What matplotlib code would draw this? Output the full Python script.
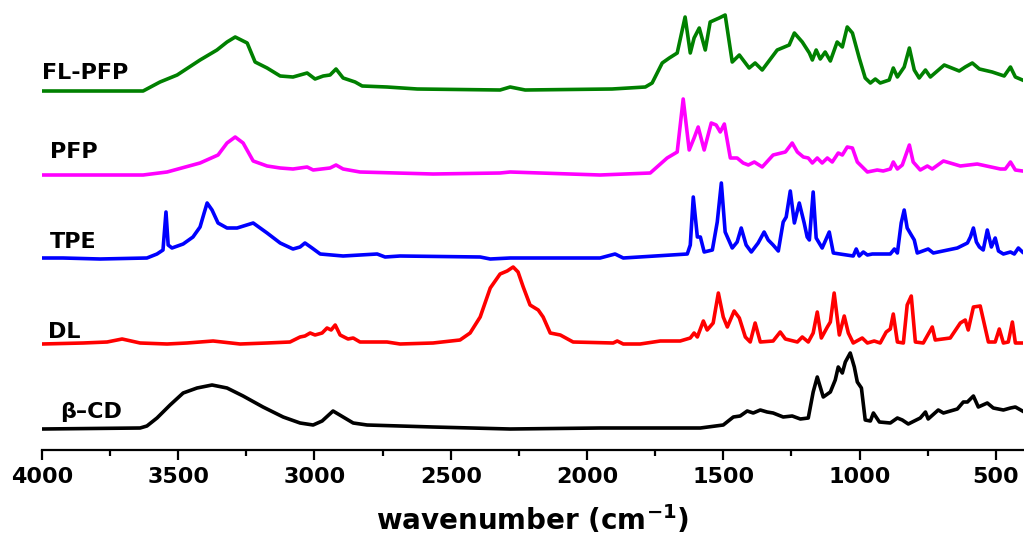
import matplotlib.pyplot as plt
from matplotlib.ticker import MultipleLocator

# espectros FTIR, intensidade relativa a linha de base de cada amostra
wn_flpfp = [4000, 3629, 3567, 3504, 3420, 3358, 3321, 3291, 3247, 3218, 3174, 3126, 3079, 3027, 2998,
            2968, 2943, 2921, 2895, 2851, 2825, 2734, 2623, 2319, 2282, 2227, 1908, 1786, 1761, 1724,
            1698, 1669, 1640, 1621, 1607, 1588, 1566, 1548, 1515, 1493, 1467, 1441, 1405, 1383, 1357,
            1302, 1258, 1239, 1210, 1184, 1173, 1159, 1144, 1126, 1107, 1082, 1063, 1045, 1026, 1001,
            979, 960, 942, 924, 891, 876, 861, 836, 817, 799, 781, 758, 740, 689, 634, 612, 586, 560,
            513, 469, 446, 428, 402]
i_flpfp = [0, 0, 9, 16, 31, 41, 49, 54, 48, 29, 23, 15, 14, 18, 12,
           15, 16, 22, 13, 9, 5, 4, 2, 1, 4, 1, 2, 4, 8, 28,
           33, 38, 74, 38, 53, 63, 41, 69, 73, 76, 29, 36, 23, 28, 21,
           41, 46, 58, 49, 38, 31, 41, 32, 39, 30, 49, 44, 64, 58, 33,
           13, 8, 12, 8, 11, 23, 14, 24, 43, 21, 13, 21, 14, 26, 20, 24, 28, 22,
           19, 15, 24, 14, 11]

wn_pfp = [4000, 3629, 3541, 3420, 3354, 3321, 3291, 3262, 3225, 3174, 3126, 3079, 3027, 3005, 2943,
          2921, 2895, 2833, 2565, 2319, 2282, 1952, 1768, 1706, 1669, 1647, 1625, 1607, 1592, 1570,
          1544, 1526, 1511, 1496, 1474, 1449, 1427, 1408, 1386, 1357, 1317, 1272, 1247, 1228, 1206,
          1188, 1173, 1155, 1137, 1118, 1100, 1078, 1063, 1045, 1026, 1008, 971, 935, 913, 887,
          876, 861, 843, 817, 803, 777, 751, 733, 692, 630, 568, 483, 465, 446, 428, 402]
i_pfp = [0, 0, 3, 12, 20, 32, 38, 32, 14, 9, 7, 6, 8, 5, 7,
         10, 6, 3, 1, 2, 3, 0, 2, 17, 23, 76, 25, 37, 48, 25,
         52, 50, 43, 51, 17, 17, 12, 10, 13, 8, 20, 23, 32, 23, 18,
         17, 12, 17, 12, 17, 13, 22, 20, 28, 27, 13, 3, 5, 4, 6,
         13, 6, 10, 30, 13, 5, 9, 6, 14, 9, 11, 6, 6, 13, 5, 4]

wn_tpe = [4000, 3923, 3787, 3615, 3578, 3556, 3545, 3537, 3523, 3482, 3446, 3420, 3405, 3394, 3376,
          3354, 3321, 3284, 3225, 3174, 3126, 3079, 3053, 3035, 3009, 2979, 2895, 2770, 2741, 2686,
          2392, 2355, 2282, 1952, 1897, 1867, 1632, 1621, 1610, 1595, 1584, 1570, 1540, 1522, 1507,
          1493, 1467, 1449, 1434, 1416, 1397, 1372, 1350, 1335, 1317, 1298, 1280, 1269, 1254, 1239,
          1221, 1203, 1192, 1184, 1170, 1159, 1137, 1111, 1096, 1023, 1012, 1001, 986, 971, 953,
          887, 872, 861, 847, 836, 825, 810, 799, 788, 748, 729, 641, 604, 593, 582,
          571, 560, 546, 531, 516, 502, 490, 472, 446, 432, 417, 402]
i_tpe = [0, 0, -1, 0, 4, 8, 46, 13, 10, 14, 21, 31, 45, 55, 48,
         35, 30, 30, 35, 25, 15, 9, 11, 15, 10, 4, 2, 4, 1, 2,
         1, -1, 0, 0, 4, 0, 4, 13, 61, 21, 21, 6, 8, 36, 75,
         26, 10, 16, 30, 13, 6, 15, 26, 18, 13, 7, 36, 41, 67, 35,
         55, 35, 21, 18, 66, 20, 10, 26, 5, 2, 9, 2, 6, 3, 4,
         4, 9, 5, 35, 48, 30, 23, 18, 5, 9, 5, 10, 15, 21, 30,
         16, 11, 8, 28, 11, 20, 7, 4, 6, 4, 10, 6]

wn_dl = [4000, 3849, 3761, 3706, 3640, 3541, 3468, 3372, 3273, 3174, 3090, 3053, 3035, 3016, 2998,
         2972, 2954, 2939, 2924, 2906, 2877, 2858, 2833, 2734, 2686, 2565, 2466, 2429, 2392, 2355,
         2319, 2293, 2271, 2253, 2234, 2209, 2179, 2161, 2135, 2098, 2051, 1904, 1889, 1867, 1805,
         1731, 1658, 1621, 1607, 1595, 1573, 1559, 1537, 1518, 1500, 1485, 1460, 1441, 1419, 1401,
         1383, 1364, 1317, 1291, 1272, 1228, 1210, 1188, 1170, 1155, 1140, 1118, 1107, 1093, 1074,
         1056, 1041, 1023, 990, 971, 946, 924, 902, 887, 876, 861, 839, 825, 810, 795,
         766, 733, 722, 667, 630, 612, 601, 582, 557, 527, 502, 487, 472, 454, 439, 428, 402]
i_dl = [0, 1, 2, 5, 1, 0, 1, 3, 0, 1, 2, 7, 8, 11, 9,
        11, 16, 14, 19, 9, 5, 6, 2, 2, 0, 1, 4, 11, 27, 56,
        70, 73, 77, 72, 57, 39, 34, 27, 11, 9, 2, 1, 3, 0, 0,
        3, 3, 6, 11, 7, 23, 14, 21, 51, 27, 17, 33, 26, 7, 2,
        21, 2, 3, 12, 5, 2, 7, 2, 11, 32, 6, 17, 22, 51, 9,
        28, 11, 1, 6, 1, 3, 1, 12, 15, 30, 2, 1, 39, 48, 2,
        1, 17, 4, 6, 21, 24, 14, 37, 38, 2, 2, 15, 1, 2, 22, 1, 1]

wn_bcd = [4000, 3640, 3615, 3578, 3530, 3482, 3431, 3376, 3321, 3262, 3189, 3115, 3053, 3005, 2972,
          2932, 2895, 2858, 2807, 2565, 2282, 1952, 1584, 1500, 1463, 1438, 1412, 1390, 1364, 1339,
          1317, 1280, 1247, 1217, 1188, 1170, 1155, 1133, 1107, 1089, 1078, 1063, 1052, 1034, 1019,
          1008, 993, 979, 960, 949, 927, 887, 861, 843, 821, 777, 758, 748, 711, 692,
          641, 619, 604, 582, 564, 531, 509, 472, 446, 428, 402]
i_bcd = [1, 2, 4, 12, 25, 37, 42, 45, 42, 34, 23, 13, 7, 5, 9,
         19, 13, 7, 5, 3, 1, 2, 2, 5, 13, 14, 19, 17, 20, 18,
         17, 13, 14, 11, 12, 38, 53, 33, 38, 50, 63, 57, 68, 77, 63,
         48, 42, 10, 9, 17, 8, 7, 12, 10, 6, 12, 18, 11, 20, 17,
         21, 28, 28, 34, 23, 27, 22, 20, 22, 23, 19]

nomes = ["FL-PFP", "PFP", "TPE", "DL", "β–CD"]
cores = ["#008000", "#ff00ff", "#0000ff", "#ff0000", "#000000"]
deslocamentos = [359, 275, 192, 106, 20]
pos_rotulos = [(4000, 377), (3970, 298), (3970, 208), (3978, 118), (3935, 38)]


def plotar_espectros():
    espectros = [(wn_flpfp, i_flpfp), (wn_pfp, i_pfp), (wn_tpe, i_tpe), (wn_dl, i_dl), (wn_bcd, i_bcd)]

    fig = plt.figure(figsize=(10.24, 5.39), dpi=100)
    ax = fig.add_axes([42 / 1024, 89 / 539, 981 / 1024, 450 / 539])

    for (x, y), nome, cor, d, (tx, ty) in zip(espectros, nomes, cores, deslocamentos, pos_rotulos):
        ax.plot(x, [v + d for v in y], color=cor, linewidth=2.6, solid_joinstyle='round')
        ax.text(tx, ty, nome, fontsize=16, fontweight='bold', ha='left', va='center')

    ax.set_xlim(4000, 400)
    ax.set_ylim(0, 450)
    ax.xaxis.set_major_locator(MultipleLocator(500))
    ax.xaxis.set_minor_locator(MultipleLocator(250))
    ax.tick_params(axis='x', which='major', direction='out', length=7, width=1.6, labelsize=16, pad=5)
    ax.tick_params(axis='x', which='minor', direction='out', length=4.5, width=1.6)
    for lbl in ax.get_xticklabels():
        lbl.set_fontweight('bold')
    ax.set_yticks([])
    for lado in ['left', 'right', 'top']:
        ax.spines[lado].set_visible(False)
    ax.spines['bottom'].set_linewidth(1.6)
    ax.set_xlabel("wavenumber (cm$^{\\mathbf{-1}}$)", fontsize=20, fontweight='bold', labelpad=12)

    plt.savefig("out.png", dpi=100)
    plt.close()


plotar_espectros()
